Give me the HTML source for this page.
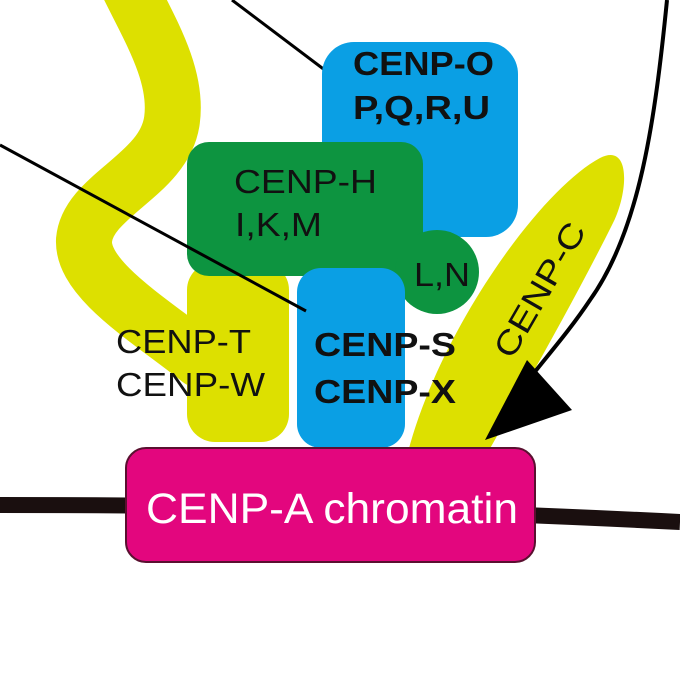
<!DOCTYPE html>
<html><head><style>html,body{margin:0;padding:0;background:#fff}svg{display:block}</style></head>
<body>
<svg width="680" height="680" viewBox="0 0 680 680" xmlns="http://www.w3.org/2000/svg" font-family="Liberation Sans, Arial, sans-serif">
<path d="M128,-15 C150,30 178,75 172,120 C165,175 88,195 84,240 C82,280 150,320 200,360" fill="none" stroke="#dde000" stroke-width="56" stroke-linecap="round"/>
<line x1="232" y1="0" x2="338" y2="80" stroke="#000" stroke-width="3"/>
<rect x="322" y="42" width="196" height="195" rx="32" fill="#0a9fe4"/>
<rect x="187" y="262" width="102" height="180" rx="28" fill="#dde000"/>
<rect x="187" y="142" width="236" height="134" rx="22" fill="#0d9440"/>
<circle cx="437" cy="272" r="42" fill="#0d9440"/>
<rect x="400" y="235" width="40" height="40" fill="#0d9440"/>
<rect x="297" y="268" width="108" height="180" rx="24" fill="#0a9fe4"/>
<path d="M408,452 C440,330 540,190 600,158 C632,142 628,195 612,225 C572,305 522,392 488,452 Z" fill="#dde000"/>
<line x1="0" y1="145" x2="306" y2="311" stroke="#000" stroke-width="3"/>
<path d="M667,0 C655,120 640,230 590,300 C570,330 548,355 530,378" fill="none" stroke="#000" stroke-width="4"/>
<polygon points="485,440 527,360 572,410" fill="#000"/>
<path d="M0,505 C200,505 400,508 680,522" fill="none" stroke="#1a0f0f" stroke-width="16"/>
<rect x="126" y="448" width="409" height="114" rx="20" fill="#e3067e" stroke="#5a1030" stroke-width="2"/>
<text x="146" y="523" font-size="43" fill="#fff" textLength="372" lengthAdjust="spacingAndGlyphs">CENP-A chromatin</text>
<g font-weight="bold" font-size="33" fill="#111">
<text x="353" y="75" textLength="141" lengthAdjust="spacingAndGlyphs">CENP-O</text>
<text x="353" y="119" textLength="137" lengthAdjust="spacingAndGlyphs">P,Q,R,U</text>
<text x="314" y="356" textLength="142" lengthAdjust="spacingAndGlyphs">CENP-S</text>
<text x="314" y="403" textLength="142" lengthAdjust="spacingAndGlyphs">CENP-X</text>
</g>
<g font-size="33" fill="#111">
<text x="234" y="193" textLength="143" lengthAdjust="spacingAndGlyphs">CENP-H</text>
<text x="235" y="236" textLength="87" lengthAdjust="spacingAndGlyphs">I,K,M</text>
<text x="414" y="286" textLength="56" lengthAdjust="spacingAndGlyphs">L,N</text>
<text x="116" y="353" textLength="135" lengthAdjust="spacingAndGlyphs">CENP-T</text>
<text x="116" y="396" textLength="149" lengthAdjust="spacingAndGlyphs">CENP-W</text>
<text transform="translate(540,290) rotate(-60)" text-anchor="middle" y="11" textLength="150" lengthAdjust="spacingAndGlyphs">CENP-C</text>
</g>
</svg>
</body></html>
